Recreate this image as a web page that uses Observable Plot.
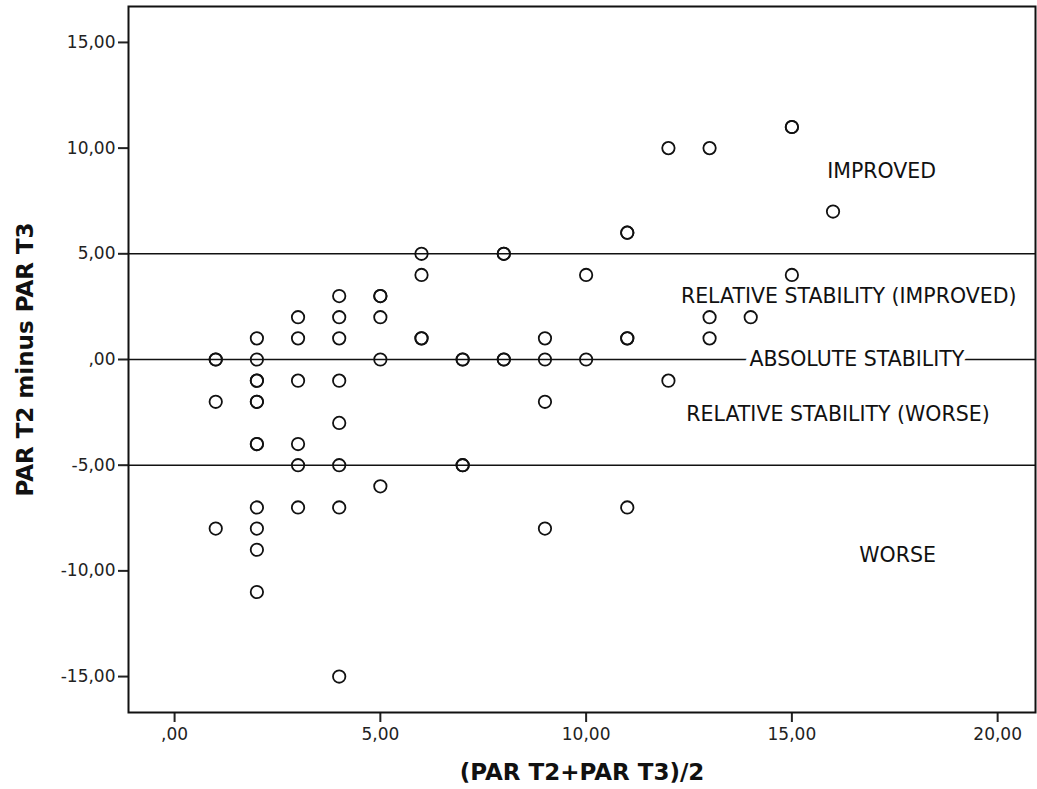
<!DOCTYPE html>
<html><head><meta charset="utf-8">
<script src="https://cdn.jsdelivr.net/npm/d3@7"></script>
<script src="https://cdn.jsdelivr.net/npm/@observablehq/plot@0.6"></script>
<style>html,body{margin:0;padding:0;background:#fff}</style>
</head><body><div id="chart"></div>
<script>
// (PAR T2 + PAR T3)/2  and  PAR T2 minus PAR T3 (repeated pairs kept as repeats)
const meanPar = [
  1,1,1,1,
  2,2,2,2,2,2,2,2,2,2,2,2,
  3,3,3,3,3,3,
  4,4,4,4,4,4,4,4,
  5,5,5,5,5,
  6,6,6,6,
  7,7,7,7,
  8,8,8,8,
  9,9,9,9,
  10,10,
  11,11,11,11,11,
  12,12,
  13,13,13,
  14,
  15,15,15,
  16
];
const diffPar = [
  0,0,-2,-8,
  1,0,-1,-1,-2,-2,-4,-4,-7,-8,-9,-11,
  2,1,-1,-4,-5,-7,
  3,2,1,-1,-3,-5,-7,-15,
  3,3,2,0,-6,
  5,4,1,1,
  0,0,-5,-5,
  5,5,0,0,
  1,0,-2,-8,
  4,0,
  6,6,1,1,-7,
  10,-1,
  10,2,1,
  2,
  11,11,4,
  7
];

const refLines = [5, 0, -5];

const zoneLabels = ["IMPROVED", "RELATIVE STABILITY (IMPROVED)", "RELATIVE STABILITY (WORSE)", "WORSE"];
const zoneX = [17.18, 16.38, 16.12, 17.57];
const zoneY = [8.92, 2.97, -2.6, -9.29];
const centerLabel = ["ABSOLUTE STABILITY"];
const centerX = [16.58];
const centerY = [0];

const xTicks = [0, 5, 10, 15, 20];
const xTickLabels = [",00", "5,00", "10,00", "15,00", "20,00"];
const yTicks = [-15, -10, -5, 0, 5, 10, 15];
const yTickLabels = ["-15,00", "-10,00", "-5,00", ",00", "5,00", "10,00", "15,00"];

const xTitle = "(PAR T2+PAR T3)/2";
const yTitle = "PAR T2 minus PAR T3";

const points = meanPar.map((m, i) => ({m, d: diffPar[i]}));
const zones = zoneLabels.map((t, i) => ({t, x: zoneX[i], y: zoneY[i]}));
const center = centerLabel.map((t, i) => ({t, x: centerX[i], y: centerY[i]}));

const chart = Plot.plot({
  width: 1037,
  height: 789,
  marginLeft: 128,
  marginRight: 2,
  marginTop: 6,
  marginBottom: 77,
  style: {fontFamily: "DejaVu Sans", background: "#fff", color: "#000"},
  x: {domain: [-1.12, 20.92]},
  y: {domain: [-16.7, 16.7]},
  marks: [
    Plot.ruleY(refLines, {stroke: "#111", strokeWidth: 1.6}),
    Plot.dot(points, {x: "m", y: "d", r: 6.2, stroke: "#111", strokeWidth: 1.8, fill: "none"}),
    Plot.text(zones, {x: "x", y: "y", text: "t", fontSize: 20.5, fill: "#111"}),
    Plot.text(center, {x: "x", y: "y", text: "t", fontSize: 20.5, fill: "#111", stroke: "#fff", strokeWidth: 11, paintOrder: "stroke"}),
    Plot.axisX({ticks: xTicks, tickFormat: (d) => xTickLabels[xTicks.indexOf(d)], tickSize: 10, tickPadding: 5, fontSize: 17, strokeWidth: 2, color: "#222", label: null}),
    Plot.axisY({ticks: yTicks, tickFormat: (d) => yTickLabels[yTicks.indexOf(d)], tickSize: 10, tickPadding: 3, fontSize: 17, strokeWidth: 2, color: "#222", label: null}),
    Plot.frame({stroke: "#111", strokeWidth: 2}),
    Plot.text([xTitle], {text: d => d, frameAnchor: "bottom", lineAnchor: "middle", textAnchor: "middle", dy: 60, fontSize: 23, fontWeight: "bold", fill: "#111"}),
    Plot.text([yTitle], {text: d => d, frameAnchor: "left", textAnchor: "middle", lineAnchor: "middle", dx: -103, rotate: -90, fontSize: 23, fontWeight: "bold", fill: "#111"})
  ]
});
document.getElementById("chart").appendChild(chart);
</script>
</body></html>
